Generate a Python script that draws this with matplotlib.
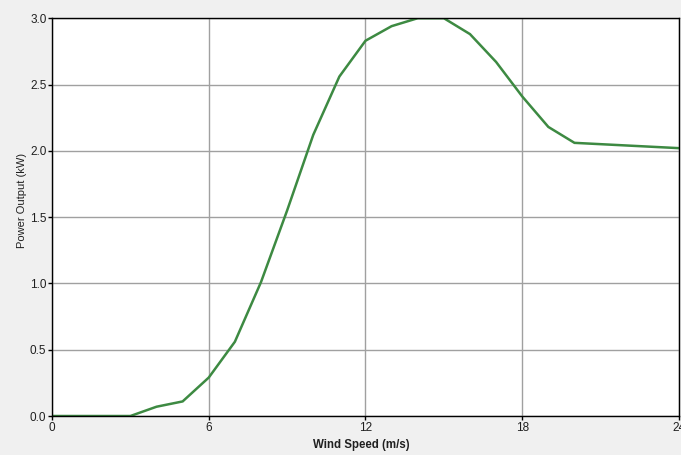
import numpy as np
import matplotlib
matplotlib.use('Agg')
import matplotlib.pyplot as plt

plt.rcParams['font.family'] = ['Liberation Sans', 'DejaVu Sans']

# power curve
wind_speed = [0, 1, 2, 3, 4, 5, 6, 7, 8, 9, 10, 11, 12,
              13, 14, 15, 16, 17, 18, 19, 20, 21, 22, 23, 24]
power_kw = [0.0, 0.0, 0.0, 0.0, 0.07, 0.11, 0.29, 0.56, 1.01, 1.55, 2.12, 2.56, 2.83,
            2.94, 3.0, 3.0, 2.88, 2.67, 2.41, 2.18, 2.06, 2.05, 2.04, 2.03, 2.02]
x_ticks = [0, 6, 12, 18, 24]
y_ticks = [0.0, 0.5, 1.0, 1.5, 2.0, 2.5, 3.0]

fig = plt.figure(figsize=(6.81, 4.55), dpi=100, facecolor='#f0f0f0')
ax = fig.add_axes([0.0764, 0.0857, 0.9206, 0.8743])
ax.set_facecolor('white')

ax.plot(wind_speed, power_kw, color='#3d8a42', lw=1.8, solid_joinstyle='miter')

ax.set_xlim(0, 24)
ax.set_ylim(0, 3.0)
ax.set_xticks(x_ticks)
ax.set_yticks(y_ticks)
ax.set_yticklabels(['{:.1f}'.format(v) for v in y_ticks])
ax.grid(True, color='#a0a0a0', lw=1.0)
ax.set_axisbelow(True)

for s in ax.spines.values():
    s.set_color('black')
    s.set_linewidth(1.0)

ax.tick_params(axis='both', direction='out', length=3, width=1,
               labelsize=8.5, colors='black', labelcolor='#202020', pad=1)

ax.set_xlabel('Wind Speed (m/s)', fontsize=8.3, fontweight='bold', color='#202020')
ax.set_ylabel('Power Output (kW)', fontsize=8, color='#202020')
ax.xaxis.set_label_coords(0.493, -0.058)
ax.yaxis.set_label_coords(-0.040, 0.543)

plt.savefig('out.png', dpi=100, facecolor=fig.get_facecolor())
